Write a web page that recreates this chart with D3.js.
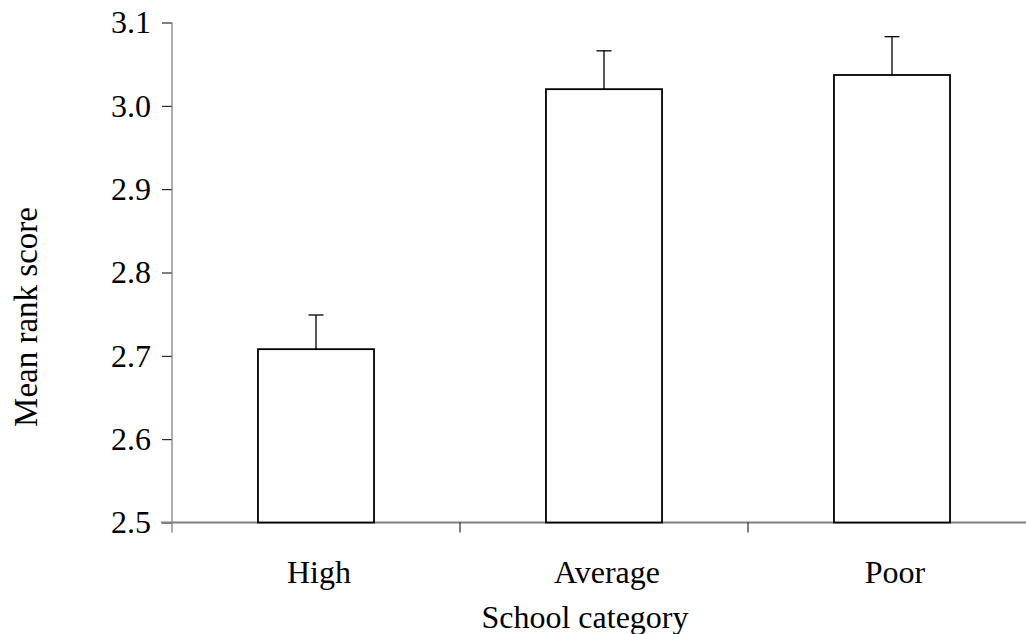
<!DOCTYPE html>
<html><head><meta charset="utf-8">
<script src="https://cdn.jsdelivr.net/npm/d3@7"></script>
<style>
html,body{margin:0;padding:0;background:#fff;}
text{font-family:"Liberation Serif","Times New Roman",serif;}
</style></head>
<body><svg id="c" width="1026" height="634"></svg>
<script>
const categories = ["High", "Average", "Poor"];
const means = [2.708, 3.020, 3.037];
const errors = [0.041, 0.046, 0.046];
const yTicks = [2.5, 2.6, 2.7, 2.8, 2.9, 3.0, 3.1];
const xTitle = "School category";
const yTitle = "Mean rank score";

const svg = d3.select("#c");
const mLeft = 172, mRight = 1036, mTop = 22.5, mBottom = 522.5;

const x = d3.scaleBand().domain(categories).range([mLeft, mRight]).paddingInner(0.597).paddingOuter(0.2985);
const y = d3.scaleLinear().domain([2.5, 3.1]).range([mBottom, mTop]);

// y axis
const yAxis = svg.append("g").attr("transform", `translate(${mLeft},0)`)
  .call(d3.axisLeft(y).tickValues(yTicks).tickFormat(d3.format(".1f")).tickSize(10).tickPadding(11));
yAxis.select(".domain").remove();
yAxis.selectAll(".tick line").attr("stroke", "#000").attr("stroke-width", 1);
yAxis.selectAll(".tick text").attr("font-size", 32).attr("fill", "#000").attr("font-family", '"Liberation Serif","Times New Roman",serif');
svg.append("line").attr("x1", mLeft).attr("x2", mLeft).attr("y1", y(3.1)).attr("y2", mBottom + 10)
  .attr("stroke", "#808080").attr("stroke-width", 1.3);

// x axis line and ticks at band boundaries
svg.append("line").attr("x1", mLeft - 11).attr("x2", mRight).attr("y1", mBottom).attr("y2", mBottom)
  .attr("stroke", "#808080").attr("stroke-width", 2);
const step = x.step();
const bounds = categories.map((c, i) => mLeft + i * step).concat([mRight]);
svg.selectAll(".xt").data(bounds.slice(1)).enter().append("line")
  .attr("x1", d => d).attr("x2", d => d).attr("y1", mBottom).attr("y2", mBottom + 10)
  .attr("stroke", "#000").attr("stroke-width", 1);

// bars
svg.selectAll(".bar").data(categories).enter().append("rect")
  .attr("x", d => x(d)).attr("width", x.bandwidth())
  .attr("y", (d, i) => y(means[i])).attr("height", (d, i) => mBottom - y(means[i]))
  .attr("fill", "#fff").attr("stroke", "#000").attr("stroke-width", 1.8);

// error bars
svg.selectAll(".err").data(categories).enter().append("line")
  .attr("x1", d => x(d) + x.bandwidth() / 2).attr("x2", d => x(d) + x.bandwidth() / 2)
  .attr("y1", (d, i) => y(means[i])).attr("y2", (d, i) => y(means[i] + errors[i]))
  .attr("stroke", "#000").attr("stroke-width", 1.3);
svg.selectAll(".cap").data(categories).enter().append("line")
  .attr("x1", d => x(d) + x.bandwidth() / 2 - 7.5).attr("x2", d => x(d) + x.bandwidth() / 2 + 7.5)
  .attr("y1", (d, i) => y(means[i] + errors[i])).attr("y2", (d, i) => y(means[i] + errors[i]))
  .attr("stroke", "#000").attr("stroke-width", 1.3);

// x labels
svg.selectAll(".xl").data(categories).enter().append("text")
  .attr("x", d => x(d) + x.bandwidth() / 2 + 3).attr("y", 583)
  .attr("text-anchor", "middle").attr("font-size", 32).attr("fill", "#000").text(d => d);

svg.append("text").attr("x", 585).attr("y", 628).attr("text-anchor", "middle")
  .attr("font-size", 32).attr("fill", "#000").text(xTitle);
svg.append("text").attr("transform", "translate(37,317) rotate(-90)").attr("text-anchor", "middle")
  .attr("font-size", 33).attr("fill", "#000").text(yTitle);
</script></body></html>
